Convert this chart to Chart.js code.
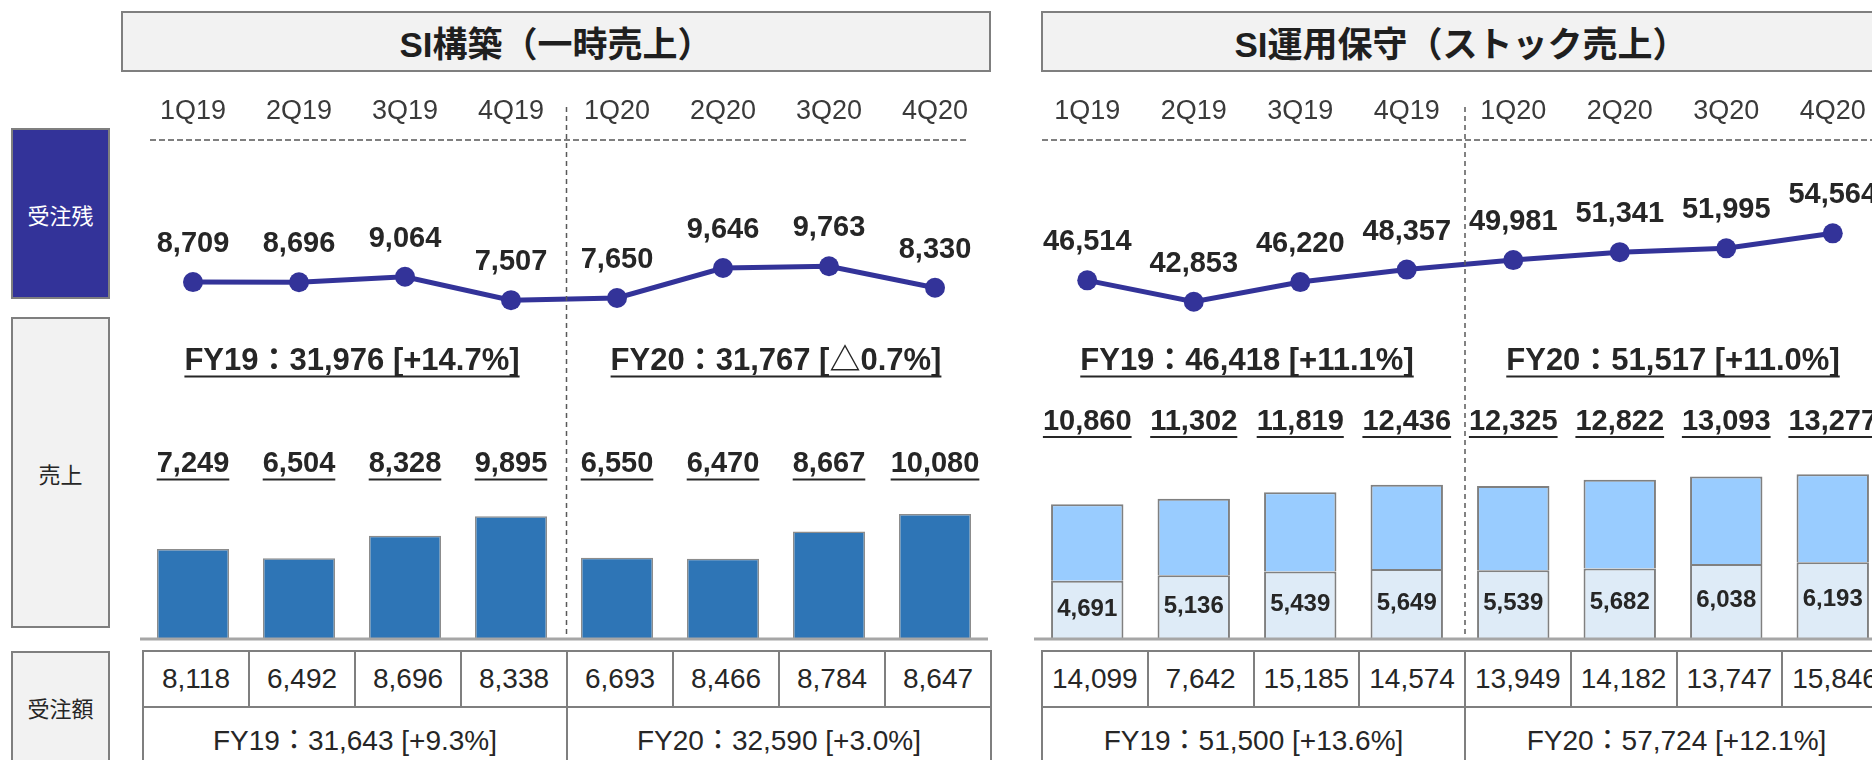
<!DOCTYPE html>
<html lang="ja">
<head>
<meta charset="utf-8">
<script src="https://cdn.jsdelivr.net/npm/chart.js@4.4.1/dist/chart.umd.min.js"></script>
<style>
  html, body { margin: 0; padding: 0; background: #fff; }
  body {
    width: 1872px; height: 760px; overflow: hidden; position: relative;
    font-family: 'Liberation Sans', 'Noto Sans CJK JP', sans-serif; color: #262626;
  }
  .box {
    position: absolute; box-sizing: border-box; border: 2px solid #7f7f7f;
    display: flex; align-items: center; justify-content: center;
  }
  .title { background: #f2f2f2; font-size: 35px; font-weight: bold; color: #1f1f1f; }
  .rowlabel { font-size: 22px; background: #f2f2f2; }
  .rowlabel.dark { background: #333399; color: #fff; }
  canvas { position: absolute; }
  table.orders {
    position: absolute; border-collapse: collapse; table-layout: fixed;
    font-size: 28px; color: #262626;
  }
  table.orders td {
    border: 2px solid #7f7f7f; text-align: center; padding: 0; white-space: nowrap;
  }
  table.orders tr.q td { height: 54px; }
  table.orders tr.fy td { height: 60px; padding-bottom: 6px; }
</style>
</head>
<body>

<div class="box title" style="left:121px; top:11px; width:870px; height:61px;">SI構築（一時売上）</div>
<div class="box title" style="left:1041px; top:11px; width:840px; height:61px;">SI運用保守（ストック売上）</div>

<div class="box rowlabel dark" style="left:11px; top:128px; width:99px; height:171px;">受注残</div>
<div class="box rowlabel" style="left:11px; top:317px; width:99px; height:311px;">売上</div>
<div class="box rowlabel" style="left:11px; top:651px; width:99px; height:112px;">受注額</div>

<canvas id="chartSI" width="848" height="566" style="left:140px; top:80px;"></canvas>
<canvas id="chartSM" width="852" height="566" style="left:1034px; top:80px;"></canvas>

<table class="orders" id="tableSI" style="left:142px; top:650px; width:850px;"></table>
<table class="orders" id="tableSM" style="left:1041px; top:650px; width:848px;"></table>

<script>
// quarters shown on both panels
var quarters = ['1Q19', '2Q19', '3Q19', '4Q19', '1Q20', '2Q20', '3Q20', '4Q20'];

// SI構築 (one-time sales)
var siBacklog = [8709, 8696, 9064, 7507, 7650, 9646, 9763, 8330];
var siSales = [7249, 6504, 8328, 9895, 6550, 6470, 8667, 10080];
var siOrders = [8118, 6492, 8696, 8338, 6693, 8466, 8784, 8647];
var siSalesFY = ['FY19：31,976 [+14.7%]', 'FY20：31,767 [△0.7%]'];
var siOrdersFY = ['FY19：31,643 [+9.3%]', 'FY20：32,590 [+3.0%]'];

// SI運用保守 (stock sales)
var smBacklog = [46514, 42853, 46220, 48357, 49981, 51341, 51995, 54564];
var smSales = [10860, 11302, 11819, 12436, 12325, 12822, 13093, 13277];
var smSalesBase = [4691, 5136, 5439, 5649, 5539, 5682, 6038, 6193];
var smOrders = [14099, 7642, 15185, 14574, 13949, 14182, 13747, 15846];
var smSalesFY = ['FY19：46,418 [+11.1%]', 'FY20：51,517 [+11.0%]'];
var smOrdersFY = ['FY19：51,500 [+13.6%]', 'FY20：57,724 [+12.1%]'];

var FONT = "'Liberation Sans', 'Noto Sans CJK JP', sans-serif";
var TEXT = '#262626';

function fmt(v) { return v.toLocaleString('en-US'); }

Chart.defaults.font.family = FONT;

// draw text with an underline, centred on x
function underlined(ctx, text, x, y, gap) {
  ctx.fillText(text, x, y);
  var w = ctx.measureText(text).width;
  ctx.beginPath();
  ctx.moveTo(x - w / 2, y + gap);
  ctx.lineTo(x + w / 2, y + gap);
  ctx.stroke();
}

// dashed rules, baseline and all value labels of one panel
var panelLabels = {
  id: 'panelLabels',
  afterDatasetsDraw: function(chart, args, opts) {
    var ctx = chart.ctx;
    var x = chart.scales.x;
    var area = chart.chartArea;
    ctx.save();

    // dashed rule under the quarter labels
    ctx.strokeStyle = '#7f7f7f';
    ctx.lineWidth = 2;
    ctx.setLineDash([6, 3]);
    ctx.beginPath();
    ctx.moveTo(area.left + opts.ruleInset[0], area.top);
    ctx.lineTo(area.right - opts.ruleInset[1], area.top);
    ctx.stroke();

    // FY19 | FY20 separator
    var sx = (x.getPixelForValue(3) + x.getPixelForValue(4)) / 2 + opts.sepOffset;
    ctx.strokeStyle = '#595959';
    ctx.lineWidth = 1.5;
    ctx.setLineDash([5, 4]);
    ctx.beginPath();
    ctx.moveTo(sx, area.top - 33);
    ctx.lineTo(sx, area.bottom);
    ctx.stroke();
    ctx.setLineDash([]);

    // bar baseline
    var y0 = chart.scales.yBar.getPixelForValue(0);
    ctx.strokeStyle = '#a6a6a6';
    ctx.lineWidth = 3;
    ctx.beginPath();
    ctx.moveTo(area.left, y0);
    ctx.lineTo(area.right, y0);
    ctx.stroke();

    ctx.fillStyle = TEXT;
    ctx.strokeStyle = TEXT;
    ctx.lineWidth = 2;
    ctx.textAlign = 'center';
    ctx.textBaseline = 'middle';

    // backlog labels above the points
    ctx.font = 'bold 29px ' + FONT;
    var lineData = chart.data.datasets[0].data;
    chart.getDatasetMeta(0).data.forEach(function(pt, i) {
      ctx.fillText(fmt(lineData[i]), pt.x, pt.y - 38);
    });

    // sales totals, one row
    opts.totals.forEach(function(v, i) {
      underlined(ctx, fmt(v), x.getPixelForValue(i), area.top + opts.totalY, 15.5);
    });

    // fiscal year sales
    ctx.font = 'bold 31px ' + FONT;
    opts.fy.forEach(function(t, k) {
      var cx = (x.getPixelForValue(k * 4) + x.getPixelForValue(k * 4 + 3)) / 2;
      underlined(ctx, t, cx, area.top + opts.fyY, 15.5);
    });

    // values inside the lower stacked segment
    if (opts.inner != null) {
      ctx.font = 'bold 24px ' + FONT;
      var innerData = chart.data.datasets[opts.inner].data;
      chart.getDatasetMeta(opts.inner).data.forEach(function(bar, i) {
        ctx.fillText(fmt(innerData[i]), bar.x, (bar.y + bar.base) / 2 - 1);
      });
    }
    ctx.restore();
  }
};

function baseOptions(lineMin, lineMax, labelOpts) {
  return {
    responsive: false,
    animation: false,
    devicePixelRatio: 1,
    layout: { autoPadding: false, padding: { bottom: 7 } },
    plugins: {
      legend: { display: false },
      tooltip: { enabled: false },
      panelLabels: labelOpts
    },
    scales: {
      x: {
        position: 'top',
        stacked: true,
        grid: { display: false, drawTicks: false },
        border: { display: false },
        ticks: { color: '#3a3a3a', font: { size: 27 }, padding: 12, maxRotation: 0 },
        afterFit: function(scale) { scale.height = 60; }
      },
      yBar: { display: false, stacked: true, min: 0, max: 40200 },
      yLine: { display: false, min: lineMin, max: lineMax }
    }
  };
}

function lineDataset(values) {
  return {
    type: 'line',
    data: values,
    yAxisID: 'yLine',
    borderColor: '#333399',
    backgroundColor: '#333399',
    borderWidth: 5,
    pointRadius: 10,
    pointBackgroundColor: '#333399',
    pointBorderWidth: 0,
    tension: 0,
    order: 0
  };
}

// ── SI構築 chart ─────────────────────────────────────────────
new Chart(document.getElementById('chartSI'), {
  type: 'bar',
  data: {
    labels: quarters,
    datasets: [
      lineDataset(siBacklog),
      {
        data: siSales,
        yAxisID: 'yBar',
        backgroundColor: '#2e75b6',
        borderColor: '#8c8c8c',
        borderWidth: 1.5,
        barPercentage: 0.68,
        categoryPercentage: 1,
        order: 1
      }
    ]
  },
  options: baseOptions(-15030, 18160, {
    ruleInset: [10, 19], sepOffset: 2.5,
    totals: siSales, totalY: 324, fy: siSalesFY, fyY: 221, inner: null
  }),
  plugins: [panelLabels]
});

// ── SI運用保守 chart ─────────────────────────────────────────
var smSalesTop = smSales.map(function(v, i) { return v - smSalesBase[i]; });

new Chart(document.getElementById('chartSM'), {
  type: 'bar',
  data: {
    labels: quarters,
    datasets: [
      lineDataset(smBacklog),
      {
        data: smSalesBase,
        yAxisID: 'yBar',
        backgroundColor: '#deebf7',
        borderColor: '#808080',
        borderWidth: 2,
        barPercentage: 0.68,
        categoryPercentage: 1,
        order: 1
      },
      {
        data: smSalesTop,
        yAxisID: 'yBar',
        backgroundColor: '#99ccff',
        borderColor: '#808080',
        borderWidth: 2,
        barPercentage: 0.68,
        categoryPercentage: 1,
        order: 2
      }
    ]
  },
  options: baseOptions(-14890, 70540, {
    ruleInset: [8, 0], sepOffset: 5,
    totals: smSales, totalY: 281.5, fy: smSalesFY, fyY: 221, inner: 1
  }),
  plugins: [panelLabels]
});

// ── order tables ─────────────────────────────────────────────
function buildTable(id, orders, fyTexts) {
  var table = document.getElementById(id);
  var q = document.createElement('tr');
  q.className = 'q';
  orders.forEach(function(v) {
    var td = document.createElement('td');
    td.textContent = fmt(v);
    q.appendChild(td);
  });
  var fy = document.createElement('tr');
  fy.className = 'fy';
  fyTexts.forEach(function(t) {
    var td = document.createElement('td');
    td.colSpan = 4;
    td.textContent = t;
    fy.appendChild(td);
  });
  table.appendChild(q);
  table.appendChild(fy);
}

buildTable('tableSI', siOrders, siOrdersFY);
buildTable('tableSM', smOrders, smOrdersFY);
</script>
</body>
</html>
